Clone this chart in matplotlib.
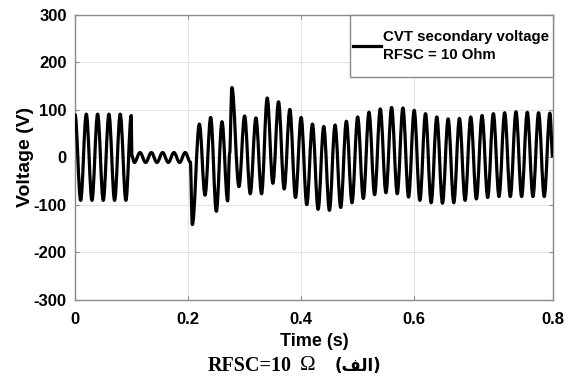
import numpy as np
import matplotlib
matplotlib.use("Agg")
from matplotlib import pyplot as plt
from matplotlib.path import Path
from matplotlib.patches import PathPatch, Rectangle
from matplotlib.lines import Line2D

# extremum points of the CVT secondary voltage (time s, voltage V)
t_pts = [0.000, 0.010, 0.020, 0.030, 0.040, 0.050, 0.060, 0.070, 0.080, 0.090, 0.0995,
         0.1005, 0.105, 0.115, 0.125, 0.135, 0.145, 0.155, 0.165, 0.175, 0.185, 0.195,
         0.204, 0.2075,
         0.220, 0.230, 0.240, 0.250, 0.260, 0.270, 0.2735, 0.2775,
         0.290, 0.300, 0.310, 0.320, 0.330, 0.340, 0.350, 0.360, 0.370, 0.380,
         0.390, 0.400, 0.410, 0.420, 0.430, 0.440, 0.450, 0.460, 0.470, 0.480,
         0.490, 0.500, 0.510, 0.520, 0.530, 0.540, 0.550, 0.560, 0.570, 0.580,
         0.590, 0.600, 0.610, 0.620, 0.630, 0.640, 0.650, 0.660, 0.670, 0.680,
         0.690, 0.700, 0.710, 0.720, 0.730, 0.740, 0.750, 0.760, 0.770, 0.780,
         0.790, 0.800, 0.810, 0.820, 0.830, 0.840, 0.845]
v_pts = [91, -91, 91, -91, 91, -91, 91, -91, 91, -91, 88,
         3, -11, 10, -11, 10, -11, 10, -11, 10, -11, 10,
         -10, -142,
         70, -80, 84, -114, 75, -92, 8, 147,
         -62, 87, -77, 83, -77, 125, -55, 117, -67, 101,
         -85, 84, -100, 70, -110, 65, -112, 68, -106, 76,
         -96, 85, -87, 95, -79, 102, -75, 105, -77, 104,
         -84, 99, -91, 92, -96, 85, -97, 81, -96, 82,
         -91, 85, -88, 88, -85, 92, -83, 94, -83, 96,
         -83, 95, -83, 94, -83, 93, 0]

t_end = 0.8455
x_ticks = [0, 0.2, 0.4, 0.6, t_end]
x_tick_labels = ['0', '0.2', '0.4', '0.6', '0.8']
y_ticks = [-300, -200, -100, 0, 100, 200, 300]

legend_label = 'CVT secondary voltage\nRFSC = 10 Ohm'
# Arabic "(الف)" written in presentation forms, visual order, since matplotlib does no shaping
caption_main = 'RFSC=10'
caption_ohm = '\u03a9'
caption_ar = '(\ufed2\ufedf\ufe8d)'

plt.rcParams['font.family'] = 'Liberation Sans'
plt.rcParams['font.weight'] = 'bold'
plt.rcParams['axes.unicode_minus'] = False

fig = plt.figure(figsize=(5.71, 3.85), dpi=100)
ax = fig.add_axes([75 / 571, 85.5 / 385, 478 / 571, 284.5 / 385])

# smooth wave: cubic segments with flat tangents at each extremum
k = 0.3634
verts = [(t_pts[0], v_pts[0])]
codes = [Path.MOVETO]
for i in range(1, len(t_pts)):
    t0, v0, t1, v1 = t_pts[i - 1], v_pts[i - 1], t_pts[i], v_pts[i]
    dt = t1 - t0
    verts += [(t0 + k * dt, v0), (t1 - k * dt, v1), (t1, v1)]
    codes += [Path.CURVE4] * 3
wave = PathPatch(Path(verts, codes), fill=False, edgecolor='black', lw=2.3,
                 joinstyle='round', capstyle='butt', zorder=3)
ax.add_patch(wave)

ax.set_xlim(0, t_end)
ax.set_ylim(-300, 300)
ax.set_xticks(x_ticks)
ax.set_xticklabels(x_tick_labels)
ax.set_yticks(y_ticks)
ax.grid(True, color='#e3e3e3', lw=0.7)
ax.set_axisbelow(True)
for s in ax.spines.values():
    s.set_color('#8a8a8a')
    s.set_linewidth(1.0)
ax.tick_params(direction='in', length=3, color='#8a8a8a', labelsize=12,
               top=True, right=True)
ax.tick_params(axis='x', pad=9)
ax.tick_params(axis='y', pad=6)
for lab in ax.get_xticklabels() + ax.get_yticklabels():
    lab.set_fontweight('bold')

ax.set_xlabel('Time (s)', fontsize=13, fontweight='bold', labelpad=4)
ax.set_ylabel('Voltage (V)', fontsize=14, fontweight='bold', labelpad=0)

# legend box (taller than the entry, as in the original)
ax.add_patch(Rectangle((0.5753, 0.782), 0.4247, 0.218, transform=ax.transAxes,
                       facecolor='white', edgecolor='#8a8a8a', lw=1.0,
                       zorder=4, clip_on=False))
handle = Line2D([], [], color='black', lw=2.3)
leg = ax.legend([handle], [legend_label], loc='center',
                bbox_to_anchor=(0.786, 0.891), frameon=False,
                handlelength=1.9, handletextpad=0.12, borderpad=0,
                prop={'size': 10.8, 'weight': 'bold'})
leg.set_zorder(5)
for txt in leg.get_texts():
    txt.set_linespacing(1.35)

fig.text(208 / 571, 0.05, caption_main, ha='left', va='center', fontsize=14.5,
         fontweight='bold', family=['Liberation Serif', 'DejaVu Serif'])
fig.text(300 / 571, 0.05, caption_ohm, ha='left', va='center', fontsize=15,
         fontweight='normal', family=['Liberation Serif', 'DejaVu Serif'])
fig.text(335 / 571, 0.05, caption_ar, ha='left', va='center', fontsize=12,
         fontweight='bold', family=['DejaVu Sans'])

fig.savefig('out.png', dpi=100)
